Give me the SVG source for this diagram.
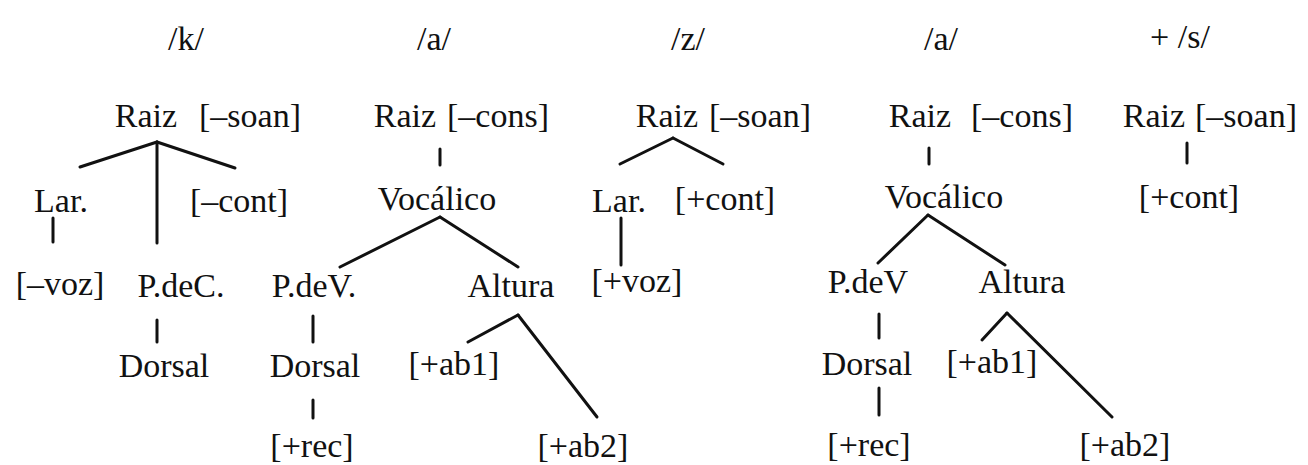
<svg xmlns="http://www.w3.org/2000/svg" width="1308" height="465" viewBox="0 0 1308 465">
<style>
text{font-family:"Liberation Serif","Times New Roman",serif;font-size:34px;fill:#111;text-anchor:middle}
.c line{stroke:#111;stroke-width:3;stroke-linecap:round}
.t{stroke-width:2.5}
</style>
<rect width="1308" height="465" fill="#fff"/>
<g id="phonemes">
<text x="186" y="50">/k/</text>
<text x="434" y="50">/a/</text>
<text x="688" y="50">/z/</text>
<text x="941" y="50">/a/</text>
<text x="1180" y="48">+ /s/</text>
</g>
<g id="t1-raiz"><text y="127"><tspan x="146">Raiz</tspan><tspan x="250">[–soan]</tspan></text></g>
<g id="t1-lar"><text x="61" y="212">Lar.</text></g>
<g id="t1-cont"><text x="239" y="212">[–cont]</text></g>
<g id="t1-voz"><text x="60" y="295">[–voz]</text></g>
<g id="t1-pdc"><text x="181" y="297">P.deC.</text></g>
<g id="t1-dorsal"><text x="164" y="377">Dorsal</text></g>
<g id="t2-raiz"><text y="127"><tspan x="405">Raiz</tspan><tspan x="498">[–cons]</tspan></text></g>
<g id="t2-voc"><text x="437" y="210">Vocálico</text></g>
<g id="t2-pdv"><text x="314" y="297">P.deV.</text></g>
<g id="t2-alt"><text x="511" y="297">Altura</text></g>
<g id="t2-dorsal"><text x="315" y="377">Dorsal</text></g>
<g id="t2-ab1"><text x="454" y="375">[+ab1]</text></g>
<g id="t2-rec"><text x="312" y="457">[+rec]</text></g>
<g id="t2-ab2"><text x="583" y="457">[+ab2]</text></g>
<g id="t3-raiz"><text y="127"><tspan x="667">Raiz</tspan><tspan x="760">[–soan]</tspan></text></g>
<g id="t3-lar"><text x="619" y="212">Lar.</text></g>
<g id="t3-cont"><text x="725" y="210">[+cont]</text></g>
<g id="t3-voz"><text x="637" y="292">[+voz]</text></g>
<g id="t4-raiz"><text y="127"><tspan x="920">Raiz</tspan><tspan x="1022">[–cons]</tspan></text></g>
<g id="t4-voc"><text x="944" y="208">Vocálico</text></g>
<g id="t4-pdv"><text x="868" y="293">P.deV</text></g>
<g id="t4-alt"><text x="1022" y="293">Altura</text></g>
<g id="t4-dorsal"><text x="867" y="375">Dorsal</text></g>
<g id="t4-ab1"><text x="992" y="373">[+ab1]</text></g>
<g id="t4-rec"><text x="869" y="456">[+rec]</text></g>
<g id="t4-ab2"><text x="1125" y="456">[+ab2]</text></g>
<g id="t5-raiz"><text y="127"><tspan x="1154">Raiz</tspan><tspan x="1246">[–soan]</tspan></text></g>
<g id="t5-cont"><text x="1189" y="208">[+cont]</text></g>
<g id="connectors" class="c">
<line x1="157" y1="142" x2="80" y2="167"/>
<line x1="157" y1="142" x2="235" y2="168"/>
<line x1="157" y1="142" x2="157" y2="243"/>
<line x1="53" y1="218" x2="53" y2="242"/>
<line x1="157" y1="320" x2="157" y2="342"/>
<line x1="440" y1="149" x2="440" y2="165"/>
<line x1="440" y1="217" x2="340" y2="267"/>
<line x1="440" y1="217" x2="518" y2="267"/>
<line class="t" x1="313" y1="316" x2="313" y2="342"/>
<line class="t" x1="313" y1="400" x2="313" y2="418"/>
<line x1="518" y1="315" x2="468" y2="342"/>
<line x1="518" y1="315" x2="597" y2="417"/>
<line x1="673" y1="138" x2="620" y2="164"/>
<line x1="673" y1="138" x2="723" y2="164"/>
<line x1="621" y1="218" x2="621" y2="265"/>
<line x1="929" y1="148" x2="929" y2="164"/>
<line x1="928" y1="215" x2="878" y2="263"/>
<line x1="928" y1="215" x2="1005" y2="265"/>
<line class="t" x1="879" y1="314" x2="879" y2="338"/>
<line class="t" x1="879" y1="388" x2="879" y2="415"/>
<line x1="1007" y1="313" x2="982" y2="340"/>
<line x1="1007" y1="313" x2="1112" y2="417"/>
<line x1="1187" y1="143" x2="1187" y2="163"/>
</g>
</svg>
